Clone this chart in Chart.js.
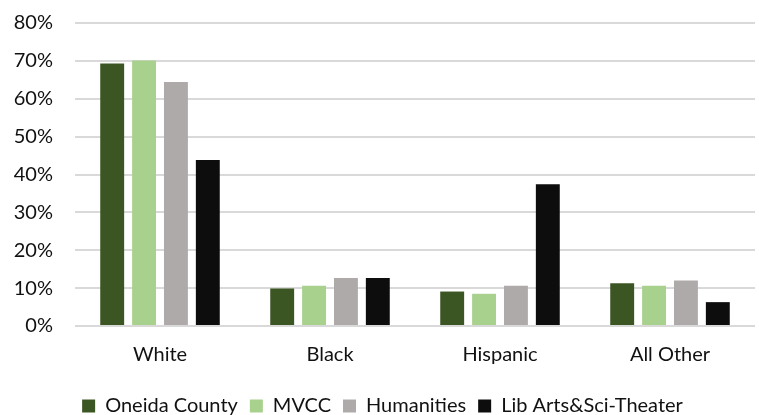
<!DOCTYPE html>
<html>
<head>
<meta charset="utf-8">
<script src="https://cdn.jsdelivr.net/npm/chart.js@4/dist/chart.umd.min.js"></script>
<style>
html,body{margin:0;padding:0;background:#fff;overflow:hidden;}
#wrap{position:relative;width:759px;height:415px;overflow:hidden;}
#c{position:absolute;left:0;top:-11px;}
</style>
</head>
<body>
<div id="wrap"><canvas id="c" width="759" height="426"></canvas></div>
<script>
const categories = ["White", "Black", "Hispanic", "All Other"];
const oneidaCounty = [0.693, 0.099, 0.091, 0.113];
const mvcc = [0.701, 0.106, 0.085, 0.106];
const humanities = [0.644, 0.127, 0.106, 0.120];
const libArtsSciTheater = [0.438, 0.127, 0.374, 0.063];
const seriesNames = ["Oneida County", "MVCC", "Humanities", "Lib Arts&Sci-Theater"];
const yTicks = [0, 0.1, 0.2, 0.3, 0.4, 0.5, 0.6, 0.7, 0.8];

const colors = ["#3b5623", "#a9d18e", "#aeaaaa", "#0d0d0d"];
const FONT = "Lato, 'Open Sans', sans-serif";

new Chart(document.getElementById('c'), {
  type: 'bar',
  data: {
    labels: categories,
    datasets: [oneidaCounty, mvcc, humanities, libArtsSciTheater].map((d, i) => ({
      label: seriesNames[i],
      data: d,
      backgroundColor: colors[i],
      borderWidth: 0,
      categoryPercentage: 0.75,
      barPercentage: 0.75
    }))
  },
  options: {
    responsive: false,
    animation: false,
    devicePixelRatio: 1,
    layout: { autoPadding: false, padding: { left: 10, right: 4, top: 11, bottom: -11 } },
    plugins: {
      tooltip: { enabled: false },
      legend: {
        position: 'bottom',
        labels: {
          color: '#111',
          font: { family: FONT, size: 20 },
          boxWidth: 13,
          boxHeight: 13,
          padding: 12
        }
      }
    },
    scales: {
      x: {
        grid: { display: false, drawTicks: false },
        border: { display: false },
        afterFit: (axis) => { axis.height = 58; },
        ticks: { color: '#111', font: { family: FONT, size: 20 }, padding: 17 }
      },
      y: {
        min: 0,
        max: 0.8,
        afterBuildTicks: (axis) => { axis.ticks = yTicks.map(v => ({ value: v })); },
        afterFit: (axis) => { axis.width = 65; },
        grid: { color: '#d9d9d9', lineWidth: 2, drawTicks: false },
        border: { display: false },
        ticks: {
          color: '#111',
          font: { family: FONT, size: 20 },
          padding: 22,
          callback: (v) => Math.round(v * 100) + '%'
        }
      }
    }
  }
});
</script>
</body>
</html>
